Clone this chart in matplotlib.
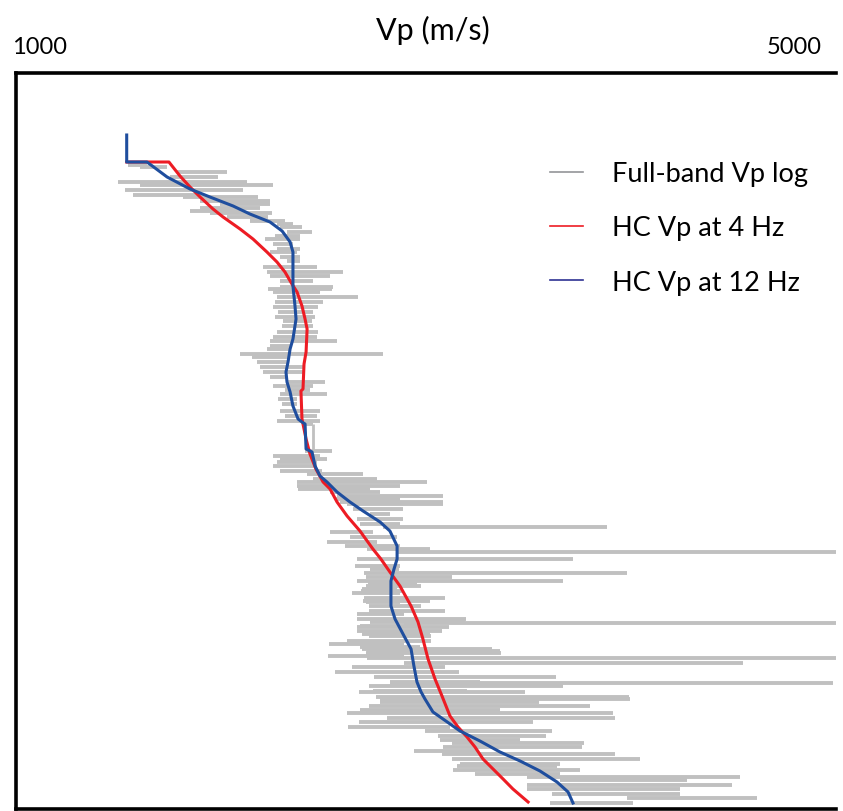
import matplotlib.pyplot as plt
from matplotlib.lines import Line2D

# depth axis is in samples from the top of the panel, Vp in m/s
# full-band log, drawn as min/max of each depth step
gray_depth = [92, 94, 99, 104, 109, 112, 117, 122, 124, 128,
              131, 135, 138, 140, 144, 148, 151, 154, 159, 163,
              166, 171, 176, 179, 184, 188, 194, 199, 203, 208,
              214, 216, 219, 224, 229, 234, 239, 244, 248, 253,
              259, 264, 268, 273, 276, 281, 284, 289, 294, 299,
              304, 309, 313, 317, 321, 326, 331, 338, 343, 348,
              351, 378, 383, 386, 389, 393, 398, 401, 406, 409,
              413, 416, 419, 423, 426, 429, 431, 436, 441, 446,
              451, 454, 459, 464, 469, 473, 476, 479, 486, 493,
              496, 500, 504, 508, 511, 513, 516, 518, 520, 525,
              528, 529, 533, 538, 541, 546, 549, 550, 553, 554,
              558, 561, 563, 568, 571, 574, 576, 578, 580, 583,
              585, 590, 594, 599, 604, 609, 610, 613, 618, 619,
              624, 626, 629, 633, 637, 640, 645, 649, 654, 658,
              663, 667, 670, 674, 678, 681, 686, 691, 693, 697,
              701, 704, 707, 712, 716, 721, 725, 730]
gray_low = [1546, 1605, 1785, 1751, 1498, 1605, 1532, 1571, 1815, 1898,
            1995, 1898, 1849, 1946, 2029, 2141, 2273, 2288, 2322, 2263,
            2215, 2254, 2273, 2239, 2288, 2322, 2205, 2224, 2239, 2288,
            2288, 2229, 2254, 2273, 2263, 2254, 2278, 2263, 2302, 2298,
            2273, 2254, 2239, 2239, 2224, 2093, 2151, 2176, 2190, 2205,
            2239, 2322, 2254, 2312, 2288, 2278, 2298, 2288, 2312, 2273,
            2395, 2410, 2254, 2288, 2273, 2254, 2288, 2420, 2449, 2371,
            2371, 2376, 2532, 2566, 2556, 2580, 2615, 2644, 2727, 2663,
            2678, 2790, 2532, 2629, 2517, 2605, 2712, 2859, 2663, 2654,
            2727, 2698, 2707, 2663, 2717, 2707, 2688, 2683, 2639, 2698,
            2693, 2707, 2722, 2722, 2663, 2663, 2727, 2893, 2678, 2663,
            2663, 2688, 2722, 2615, 2527, 2678, 2688, 2712, 2707, 2522,
            2712, 2893, 2639, 2556, 2746, 2824, 2824, 2722, 2741, 2673,
            2756, 2776, 2776, 2722, 2678, 2615, 2810, 2673, 2619, 2995,
            3059, 3068, 3127, 3083, 2941, 3078, 3127, 3166, 3151, 3132,
            3239, 3493, 3654, 3493, 3493, 3615, 3980, 3605]
gray_high = [1639, 1737, 2029, 1985, 2127, 2254, 2107, 1898, 2180, 2239,
             2239, 2190, 2093, 2249, 2229, 2312, 2351, 2395, 2444, 2385,
             2385, 2351, 2385, 2371, 2385, 2385, 2468, 2595, 2532, 2449,
             2546, 2541, 2483, 2668, 2498, 2473, 2449, 2459, 2444, 2449,
             2473, 2468, 2566, 2346, 2337, 2790, 2337, 2322, 2400, 2400,
             2322, 2507, 2449, 2434, 2517, 2371, 2371, 2483, 2468, 2483,
             2449, 2541, 2483, 2517, 2468, 2468, 2493, 2693, 2761, 3005,
             2873, 2727, 2776, 3083, 2873, 3083, 3083, 2888, 2824, 2888,
             2873, 3883, 2741, 2859, 2761, 2873, 3020, 5000, 3717, 2873,
             2868, 3980, 3127, 3668, 2956, 2976, 2859, 2888, 2873, 3093,
             3020, 2873, 2976, 3093, 2893, 3195, 3190, 5000, 2971, 3112,
             3078, 3020, 3024, 3024, 2893, 2971, 3322, 3361, 3366, 2893,
             5000, 4546, 3093, 3161, 3634, 3263, 4985, 3668, 3200, 3483,
             3990, 3995, 3551, 3800, 3361, 3912, 3922, 3522, 3117, 3615,
             3585, 3459, 3771, 3761, 3249, 3922, 4044, 3654, 3639, 3751,
             3654, 4532, 4273, 4493, 4239, 4239, 4615, 4010]
# stretch where the log holds one value
flat_vp = 2449
flat_top = 351
flat_bottom = 378

# HC Vp at 4 Hz
red_depth = [89, 89, 103, 114, 124, 136, 144, 156, 166, 179, 189, 199, 211, 219, 233, 246, 256, 279, 291, 316,
             318, 346, 366, 381, 396, 409, 416, 429, 443, 458, 476, 486, 499, 513, 533, 549, 566, 586, 606, 623,
             643, 654, 664, 674, 686, 696, 706, 716, 729]
red_vp = [1540, 1746, 1800, 1849, 1898, 1961, 2010, 2093, 2156, 2224, 2273, 2312, 2346, 2371, 2395, 2410, 2420, 2415, 2405, 2400,
          2390, 2395, 2415, 2434, 2463, 2498, 2532, 2566, 2615, 2678, 2741, 2780, 2824, 2873, 2927, 2961, 2985, 3010, 3044, 3078,
          3117, 3156, 3200, 3239, 3278, 3327, 3376, 3424, 3498]

# HC Vp at 12 Hz
blue_depth = [62, 89, 89, 104, 116, 124, 133, 141, 149, 158, 169, 179, 213, 233, 246, 266, 276, 289, 299, 309,
              319, 333, 346, 349, 351, 376, 379, 393, 403, 409, 419, 429, 438, 449, 458, 473, 486, 496, 508, 533,
              546, 563, 576, 593, 609, 619, 626, 639, 646, 658, 668, 679, 688, 698, 709, 719, 730]
blue_vp = [1540, 1540, 1639, 1737, 1849, 1946, 2059, 2141, 2239, 2298, 2337, 2351, 2351, 2361, 2366, 2351, 2337, 2327, 2317, 2322,
           2337, 2351, 2376, 2395, 2410, 2415, 2444, 2459, 2483, 2517, 2566, 2629, 2693, 2776, 2824, 2859, 2859, 2844, 2829, 2829,
           2849, 2893, 2927, 2941, 2956, 2976, 2995, 3034, 3083, 3166, 3263, 3361, 3459, 3556, 3639, 3693, 3717]

labels = ["Full-band Vp log", "HC Vp at 4 Hz", "HC Vp at 12 Hz"]

plt.rcParams['font.family'] = ['Lato', 'DejaVu Sans']

fig = plt.figure(figsize=(8.43, 8.12), dpi=100)
ax = fig.add_axes([16 / 843, 2 / 812, 820 / 843, 736 / 812])

ax.hlines(gray_depth, gray_low, gray_high, color='#c0c0c0', lw=2.8)
ax.vlines([flat_vp], flat_top, flat_bottom, color='#c0c0c0', lw=2.0)
ax.plot(red_vp, red_depth, color='#ed1c24', lw=2.2)
ax.plot(blue_vp, blue_depth, color='#1f4e9e', lw=2.2)

ax.set_xlim(1000, 5000)
ax.set_ylim(736, 0)
ax.set_xticks([])
ax.set_yticks([])
for side in ['left', 'top', 'bottom']:
    ax.spines[side].set_linewidth(2.6)
ax.spines['right'].set_visible(False)

fig.text(12 / 843, 1 - 54 / 812, "1000", fontsize=17, ha='left', va='baseline')
fig.text(822 / 843, 1 - 54 / 812, "5000", fontsize=17, ha='right', va='baseline')
fig.text(433 / 843, 1 - 40 / 812, "Vp (m/s)", fontsize=22, ha='center', va='baseline')

handles = [Line2D([], [], color='#939598', lw=1.2),
           Line2D([], [], color='#ed1c24', lw=1.2),
           Line2D([], [], color='#2e3192', lw=1.2)]
ax.legend(handles, labels, loc='upper left', bbox_to_anchor=(550 / 843, 1 - 162 / 812),
          bbox_transform=fig.transFigure, frameon=False, fontsize=19.5,
          handlelength=1.2, handletextpad=1.1, labelspacing=1.08,
          borderpad=0, borderaxespad=0)

fig.savefig("out.png", dpi=100)
